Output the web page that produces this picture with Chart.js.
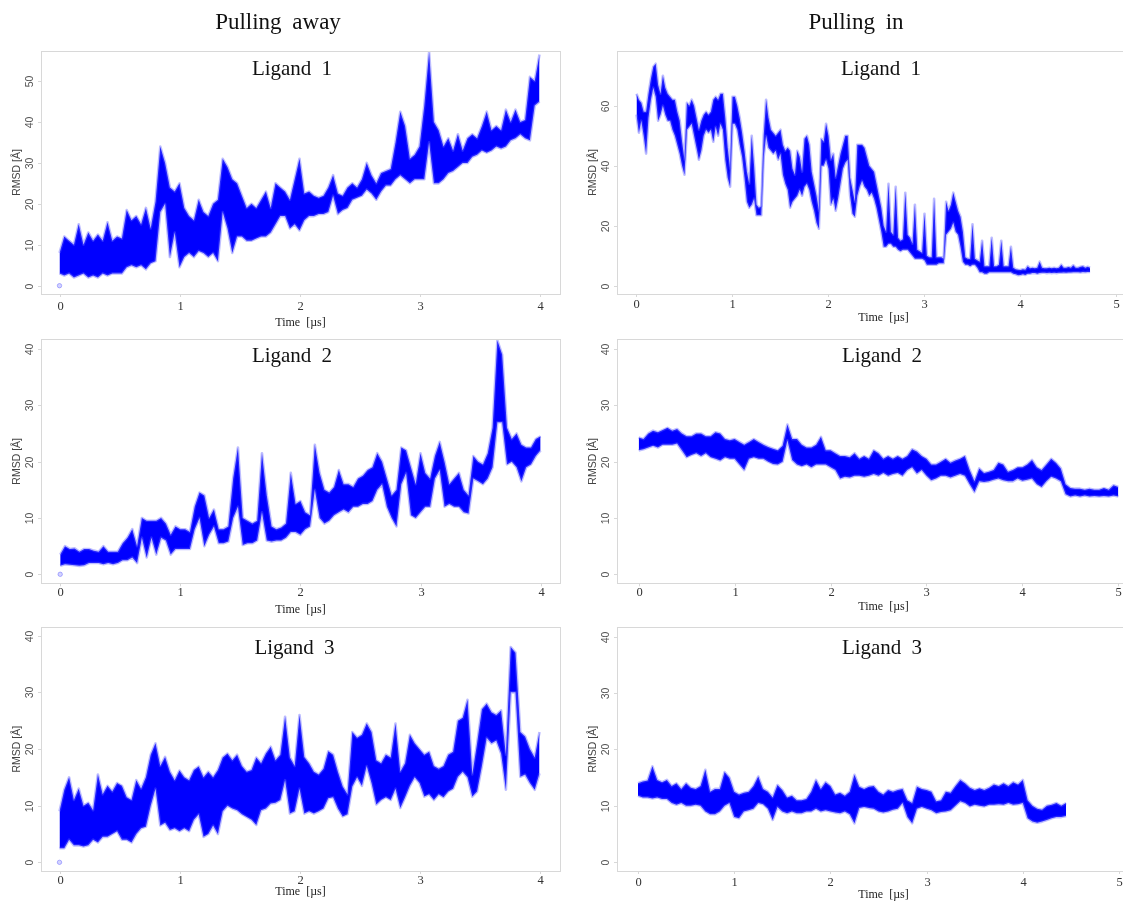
<!DOCTYPE html>
<html>
<head>
<meta charset="utf-8">
<title>RMSD pulling runs</title>
<script src="https://cdn.jsdelivr.net/npm/chart.js@4.4.1/dist/chart.umd.min.js"></script>
<style>
  html, body { margin: 0; padding: 0; background: #fff; overflow: hidden; }
  #figure { position: relative; width: 1123px; height: 901px; overflow: hidden; background: #fff; }
  #figure canvas { position: absolute; }
</style>
</head>
<body>
<div id="figure"></div>
<script>
// ---- labels and ticks ----
const columnTitles = ['Pulling away', 'Pulling in'];
const ligandNames = ['Ligand 1', 'Ligand 2', 'Ligand 3'];
const awayTimeTicks = [0, 1, 2, 3, 4];
const inTimeTicks = [0, 1, 2, 3, 4, 5];
const rmsdTicksAway1 = [0, 10, 20, 30, 40, 50];
const rmsdTicksIn1 = [0, 20, 40, 60];
const rmsdTicks40 = [0, 10, 20, 30, 40];

// first frame of the pulling-away runs sits at zero RMSD
const firstFrameT = [0];
const firstFrameRmsd = [0];

// sampling interval (µs) of each series below
const awayStep = 0.04;
const inL1Step = 0.025;
const inStep = 0.05;

// ---- pulling away, ligand 1: lower / upper edge of the RMSD band ----
const awayL1Low = [
  3, 2.5, 3, 2, 2.5, 3, 2, 2.5, 2, 3,
  2.5, 3, 3, 3, 4.5, 5, 4.5, 5, 4, 5.5,
  6, 18, 20, 7, 13, 4.5, 7, 8, 7, 8.5,
  8, 7, 8, 6, 18, 14, 8, 12, 12, 11,
  11, 11.5, 12, 12, 13, 15, 17, 17, 14, 15,
  13.5, 16, 17, 17, 17.5, 17.5, 18, 22, 17.5, 18.5,
  19, 21, 21.5, 22, 23.5, 22.5, 21, 23, 24.5, 24.5,
  26, 27, 26, 25, 26, 26, 26, 35, 25, 25,
  26, 27.5, 28, 29, 30, 30, 31.5, 32, 33, 32.5,
  33, 34, 33.5, 34, 35.5, 36, 37, 36, 35.5, 44,
  45
];
const awayL1High = [
  8, 12, 11, 10, 15, 10, 13, 11, 12.5, 11,
  15.5, 11, 12, 11.5, 18.5, 16, 17, 15, 19, 14,
  20.5, 34, 30, 24, 23, 25, 19, 17, 16, 21,
  18, 17, 20, 21, 31, 29, 26, 25, 22, 19,
  20, 19, 21, 23, 19, 25, 24, 23, 21, 26,
  31, 22.5, 23, 22, 21.5, 22, 24, 27, 22.5, 22,
  24, 25, 24, 26, 30, 27, 25, 27.5, 28, 28.5,
  35, 42.5, 39, 31, 32, 34, 44, 57, 40, 38,
  34, 36, 33, 37, 33, 36, 37, 36, 39, 42.5,
  38, 39, 38, 43, 40, 43, 40, 40.5, 51, 50,
  56.5
];

// ---- pulling in, ligand 1 ----
const inL1Low = [
  57, 51, 55, 50, 44, 56, 62, 66, 63, 55,
  57, 60, 57, 55, 55, 52, 50, 47, 44, 40,
  37, 52, 53, 54, 50, 46, 42, 45, 50, 52,
  51, 52, 48, 53, 50, 54, 52, 42, 36, 33,
  54, 54, 52, 47, 43, 36, 28, 26, 27, 29,
  23.5, 23.5, 23.5, 43, 50, 46, 45, 44, 45, 42,
  44, 37, 34, 32, 26, 28, 29, 30, 32, 30,
  33, 34, 32, 28, 25, 21, 19, 40, 40, 42,
  39, 27, 29, 25, 29, 34, 39, 41, 42, 30,
  24, 23, 30, 33, 35, 33, 32, 30, 31, 29,
  26, 22, 18, 13, 13, 14, 14, 13, 13, 12,
  11.5, 12, 12, 12, 11, 10, 9, 9, 9, 9,
  8.5, 7, 7, 7, 7, 7, 7.5, 7.5, 7.5, 17,
  18, 19, 21, 18, 17, 13, 8, 7, 7, 6.5,
  7, 7, 6, 4.5, 4.5, 4, 4, 4.5, 4.5, 4.5,
  4.5, 4.5, 4.5, 4.5, 4.5, 4.5, 4.5, 4, 3.8, 3.5,
  3.6, 3.8, 3.6, 4, 4, 4.2, 4.2, 4, 4.2, 4.3,
  4.3, 4.2, 4.3, 4.2, 4.3, 4.2, 4.3, 4.3, 4.4, 4.3,
  4.4, 4.4, 4.5, 4.5, 4.5, 4.4, 4.6, 4.5, 4.6, 4.6
];
const inL1High = [
  64, 62, 61, 58, 58, 64, 69, 73, 74, 67,
  64, 70, 66, 64, 63, 62, 62, 58, 55, 48,
  42, 61, 60, 62, 60, 56, 52, 55, 57, 58,
  57, 58, 62, 63, 62, 64, 64, 56, 46, 39,
  63, 63, 60, 56, 51, 45, 38, 34, 50, 40,
  27, 26, 26.5, 50, 62, 56, 52, 51, 50, 51,
  52, 47, 45, 46, 45, 39, 37, 45, 43, 38,
  49, 50, 47, 38, 34, 30, 25, 49, 48, 54,
  50, 42, 44, 36, 40, 44, 47, 50, 50, 36,
  32, 28, 47, 47, 47, 46, 43, 40, 39, 38,
  34, 30, 26, 20, 18, 34, 18, 17, 33, 16,
  15, 15.5, 31, 17, 16, 14, 27, 12, 11.5, 11,
  24, 10, 9.5, 9.5, 29, 9.5, 9.5, 9.5, 9, 28,
  25, 27, 31, 28, 25, 23, 18, 9.5, 9, 9,
  20.5, 9, 8.5, 8, 15, 6.5, 6.5, 6.5, 16, 6.5,
  6.5, 7, 15, 6.5, 6.5, 6.5, 13, 6, 5.5, 5.3,
  5.2, 5.5, 5.3, 6.5, 5.8, 6, 5.8, 6, 8, 6,
  5.8, 5.8, 6, 5.8, 6, 5.8, 6, 7, 6, 6,
  6.2, 6, 6.8, 6, 6, 6.3, 6.5, 6, 6.3, 6
];

// ---- pulling away, ligand 2 ----
const awayL2Low = [
  1.5, 1.8, 1.7, 1.6, 1.5, 1.6, 2, 2, 2, 1.8,
  2, 1.8, 2, 2.5, 2.5, 3, 2, 6.5, 3, 6.5,
  3.5, 6.5, 6, 3.5, 4.5, 4.5, 4.5, 4.5, 8, 10,
  5, 7, 8.5, 5.5, 5.5, 5.8, 10, 12, 5.2, 5.5,
  5.5, 6, 11, 6, 5.8, 6, 6, 6.5, 7.5, 7.5,
  7, 8, 8.5, 15, 10, 9, 9.5, 10.5, 11, 11.5,
  11, 12, 12, 12.5, 12.5, 13, 15, 16, 12, 10,
  8.5, 16, 18, 10.5, 10, 11, 12, 12, 17, 18.5,
  12, 12.5, 12, 12, 11, 10.8, 17, 16.5, 16, 17,
  19, 27, 27, 19.5, 20, 19, 16.5, 19, 19.5, 21,
  22
];
const awayL2High = [
  3.5, 5, 4.5, 4.6, 4, 4.5, 4.5, 4.2, 4, 5,
  4, 4, 4, 5.5, 6.5, 8, 5, 10, 9.5, 9.5,
  9.5, 10, 9, 7, 8.5, 8, 8, 7.5, 12, 14.5,
  14, 10, 11.5, 8, 8, 8.5, 17, 22.5, 10, 9.5,
  9, 9.5, 21.5, 14, 8.5, 8, 8.3, 9, 18, 12.5,
  13, 11, 10.5, 23, 18, 15, 14.5, 15.5, 18.5, 16,
  16, 15.5, 17, 17.5, 18.5, 19, 21.5, 20, 17, 14,
  15, 22.5, 22, 19, 16, 21.5, 18, 17, 21, 23.5,
  20, 16, 17, 18, 15, 14, 21, 20, 19.5, 21.5,
  26, 41.5, 39, 26, 24, 25, 23, 22.5, 22.5, 24,
  24.5
];

// ---- pulling in, ligand 2 ----
const inL2Low = [
  22, 22.2, 22.5, 22.8, 22.5, 23, 23, 23, 23.2, 22,
  20.8, 21.2, 21.5, 21, 21.5, 20.8, 20.5, 20.2, 20.8, 20.5,
  20.5, 19.5, 18.5, 20.5, 20.8, 20.5, 20.5, 20, 19.6, 19.5,
  20, 23.8, 20.3, 19.5, 19.2, 19.5, 19, 19.5, 19.5, 19.5,
  19, 18.5, 17, 17.3, 17.2, 17.5, 17.5, 17.3, 17.5, 17.8,
  17.5, 18, 17.5, 17.8, 18, 17.5, 18.5, 19, 17.9, 18.5,
  17.5, 16.7, 17, 17.5, 17.5, 17.2, 17.5, 17.8, 17.5, 16,
  14.6, 16.5, 16.4, 16.5, 16.8, 17, 16.7, 16.5, 16.5, 17,
  16.6, 16.8, 17, 16, 15.5, 16.5, 17.3, 17, 16.5, 14.2,
  13.8, 14, 13.8, 14, 13.8, 13.9, 13.8, 13.9, 13.8, 14,
  13.8
];
const inL2High = [
  24.3, 24, 25, 25.5, 25.2, 25.6, 26, 25.5, 25.8, 25,
  24.5, 24.5, 25, 25, 24.5, 24.5, 25.2, 25, 24, 23.8,
  24, 23.5, 23, 23.5, 24, 23.5, 23, 22.6, 22.3, 22,
  22.8, 26.6, 24, 24, 23, 22.5, 22.5, 23, 24.4, 22,
  22, 21.5, 21, 21, 20.8, 21.5, 20.5, 21, 20.5, 22,
  21.5, 20.5, 21, 20.5, 21, 20.5, 21, 22.2, 21.8, 21,
  20.5, 19.5, 19.5, 20, 20.5, 19.8, 20.2, 20.5, 21, 18.5,
  16.5, 18.8, 18, 18.2, 18.5, 19.8, 19.5, 18.2, 18.5, 19,
  19, 19.5, 20.3, 19, 18.5, 19.5, 20.5, 19.8, 18.8, 16,
  15.3, 15.2, 15.2, 15, 15.2, 15, 15, 15.3, 15, 15.8,
  15.5
];

// ---- pulling away, ligand 3 ----
const awayL3Low = [
  2.5, 2.5, 4, 3, 3, 2.8, 3, 4, 3.5, 4.5,
  4.5, 5, 5.5, 4, 4, 3.5, 5, 6, 6.3, 10,
  13, 6.5, 7, 5.7, 6, 5.5, 6, 5.5, 7.5, 8.5,
  4.5, 5, 6.5, 5, 9, 10, 9.5, 9.2, 8.5, 8,
  7.5, 6.6, 9.2, 9.5, 10.4, 10.5, 11, 14.5, 8.6, 9,
  13, 8.6, 9, 8.6, 9, 9.5, 11.3, 11.5, 9.5, 8.1,
  8.5, 13.4, 15, 13.5, 17, 14, 10.2, 11, 11.5, 11,
  13, 9.6, 11.5, 13.5, 15, 14, 11.6, 12, 11, 12,
  11.5, 12.5, 13, 15.1, 16, 15, 11.6, 12.5, 17, 22,
  21, 21.5, 19.2, 12.8, 30, 30, 15.1, 15.5, 14, 12.8,
  15.7
];
const awayL3High = [
  9, 12.8, 15, 11, 13, 10, 10.5, 9.2, 15.5, 12,
  13.5, 12.5, 14, 13.5, 11.5, 11, 14.5, 13, 15, 19,
  21, 17, 18.6, 16, 14.5, 16.2, 15, 14.5, 16.3, 16.9,
  15, 16, 15, 16.3, 18.5, 19.2, 18, 19, 17, 16,
  16.3, 18.5, 17.5, 19.2, 20.4, 18, 19, 25.7, 18.5, 17,
  26, 18.6, 17.5, 16, 15.5, 16.5, 19.6, 19, 16, 13.4,
  12, 23, 22, 22.5, 24.5, 23, 18, 17.5, 19, 18.5,
  24.5, 16, 17.5, 22.5, 21, 20, 19, 19.5, 17, 16.5,
  17, 19, 19.5, 25, 25.5, 28.7, 15.5, 21, 27, 28,
  26.5, 26, 26.8, 19, 38, 37, 23, 22.2, 20, 18.5,
  23
];

// ---- pulling in, ligand 3 ----
const inL3Low = [
  11.8, 11.5, 11.5, 11.3, 11.5, 11.2, 11.2, 10.5, 10.2, 10.5,
  10, 10, 10.2, 10, 9, 8.5, 8.5, 9, 10, 10.5,
  8, 7.8, 9, 9.2, 9.5, 10.5, 10.3, 9.5, 7.5, 9.8,
  9, 8.7, 9, 8.7, 8.7, 9, 9, 9.5, 9, 9.2,
  9, 8.8, 8.7, 9, 8.5, 6.9, 9.6, 9.8, 9.6, 9.5,
  9, 8.8, 9, 9.3, 9.5, 10.5, 8, 6.9, 9.5, 9.8,
  9.5, 9.2, 8.7, 8.9, 9, 9.2, 10, 10.8, 10.5, 9.9,
  10.2, 10, 9.9, 10.2, 10.2, 10.3, 10.2, 10.5, 10.2, 10.3,
  10.5, 7.8, 7.2, 7, 7.2, 7.5, 7.8, 8, 8, 8.2
];
const inL3High = [
  14, 14.3, 14.5, 17, 14.6, 14.2, 14.6, 13.5, 14, 13,
  14, 13.2, 13, 13.5, 16.4, 12.5, 13, 13, 16, 15,
  12.5, 12, 12.3, 12.5, 13.5, 15.2, 13, 12.5, 11.5, 13.7,
  12.8, 11.5, 11.8, 11, 11, 11.2, 12.5, 14.6, 13, 14.2,
  13.5, 12, 12.3, 11.8, 12.5, 15.5, 13.4, 13, 13.4, 13.5,
  12.5, 12, 12.8, 12.5, 12.8, 13, 11, 10.5, 13.4, 13,
  12.8, 12.5, 10.8, 11, 12.5, 12.3, 13.5, 14.6, 14, 13.2,
  12.8, 13.1, 12.8, 13.2, 13.8, 13.5, 14, 13.5, 14.2, 13.8,
  14.6, 11, 10, 9.5, 9.3, 10, 10.2, 10.5, 10, 10.5
];

// ---- panel placement (page pixels) and axis limits ----
const panels = [
  { left: 0, top: 0, w: 565, h: 330, pad: { left: 41, right: 5, top: 51, bottom: 36 },
    xr: [-0.1542, 4.1708], yr: [-2.03, 57.33], step: awayStep, low: awayL1Low, high: awayL1High, first: true,
    xTicks: awayTimeTicks, yTicks: rmsdTicksAway1, name: ligandNames[0], nameDx: 251, nameDy: 23.7,
    tickGap: 12.7, timeGap: 28.7, colTitle: columnTitles[0], colX: 278 },
  { left: 565, top: 0, w: 590, h: 330, pad: { left: 52, right: 5, top: 51, bottom: 36 },
    xr: [-0.2031, 5.349], yr: [-2.77, 78.23], step: inL1Step, low: inL1Low, high: inL1High, first: false,
    xTicks: inTimeTicks, yTicks: rmsdTicksIn1, name: ligandNames[0], nameDx: 264, nameDy: 23.7,
    tickGap: 11, timeGap: 24.3, colTitle: columnTitles[1], colX: 291 },
  { left: 0, top: 330, w: 565, h: 290, pad: { left: 41, right: 5, top: 9.3, bottom: 36.7 },
    xr: [-0.1599, 4.1615], yr: [-1.6, 41.72], step: awayStep, low: awayL2Low, high: awayL2High, first: true,
    xTicks: awayTimeTicks, yTicks: rmsdTicks40, name: ligandNames[1], nameDx: 251, nameDy: 23,
    tickGap: 9.7, timeGap: 26.7 },
  { left: 565, top: 330, w: 590, h: 290, pad: { left: 52, right: 5, top: 9.3, bottom: 36.7 },
    xr: [-0.2262, 5.33], yr: [-1.6, 41.72], step: inStep, low: inL2Low, high: inL2High, first: false,
    xTicks: inTimeTicks, yTicks: rmsdTicks40, name: ligandNames[1], nameDx: 265, nameDy: 23,
    tickGap: 9.7, timeGap: 23.4 },
  { left: 0, top: 620, w: 565, h: 281, pad: { left: 41, right: 5, top: 7.3, bottom: 30 },
    xr: [-0.1542, 4.1708], yr: [-1.53, 41.48], step: awayStep, low: awayL3Low, high: awayL3High, first: true,
    xTicks: awayTimeTicks, yTicks: rmsdTicks40, name: ligandNames[2], nameDx: 253.5, nameDy: 27,
    tickGap: 10, timeGap: 21 },
  { left: 565, top: 620, w: 590, h: 281, pad: { left: 52, right: 5, top: 7.3, bottom: 30 },
    xr: [-0.2183, 5.322], yr: [-1.56, 41.67], step: inStep, low: inL3Low, high: inL3High, first: false,
    xTicks: inTimeTicks, yTicks: rmsdTicks40, name: ligandNames[2], nameDx: 265, nameDy: 27,
    tickGap: 12, timeGap: 24 }
];

const serif = '"Liberation Serif", "DejaVu Serif", serif';
const sans = '"Liberation Sans", Arial, sans-serif';

// frame, ticks, axis labels and titles drawn around each panel
const panelDecor = {
  id: 'panelDecor',
  afterDraw(chart, args, o) {
    const ctx = chart.ctx;
    const a = chart.chartArea;
    const xs = chart.scales.x, ys = chart.scales.y;
    ctx.save();
    ctx.strokeStyle = '#d8d8d8';
    ctx.lineWidth = 1;
    ctx.strokeRect(Math.round(a.left) + 0.5, Math.round(a.top) + 0.5,
      Math.round(a.right - a.left), Math.round(a.bottom - a.top));

    // y ticks, labels rotated like the axis
    ctx.font = '10.5px ' + sans;
    ctx.fillStyle = '#555';
    o.yTicks.forEach(v => {
      const py = Math.round(ys.getPixelForValue(v)) + 0.5;
      ctx.beginPath();
      ctx.moveTo(a.left - 3, py);
      ctx.lineTo(a.left, py);
      ctx.stroke();
      ctx.save();
      ctx.translate(a.left - 10.5, py);
      ctx.rotate(-Math.PI / 2);
      ctx.textAlign = 'center';
      ctx.textBaseline = 'middle';
      ctx.fillText(String(v), 0, 0);
      ctx.restore();
    });

    // x ticks
    ctx.font = '12.5px ' + serif;
    ctx.fillStyle = '#333';
    ctx.textAlign = 'center';
    ctx.textBaseline = 'middle';
    o.xTicks.forEach(v => {
      const px = Math.round(xs.getPixelForValue(v)) + 0.5;
      ctx.beginPath();
      ctx.moveTo(px, a.bottom);
      ctx.lineTo(px, a.bottom + 3);
      ctx.stroke();
      ctx.fillText(String(v), px, a.bottom + o.tickGap);
    });

    // axis titles
    const cx = (a.left + a.right) / 2;
    ctx.font = '12px ' + serif;
    ctx.fillStyle = '#222';
    if ('wordSpacing' in ctx) ctx.wordSpacing = '3px';
    ctx.fillText('Time [µs]', cx, a.bottom + o.timeGap);
    if ('wordSpacing' in ctx) ctx.wordSpacing = '0px';

    ctx.save();
    ctx.translate(a.left - 24, (a.top + a.bottom) / 2);
    ctx.rotate(-Math.PI / 2);
    ctx.font = '10.5px ' + sans;
    ctx.fillStyle = '#444';
    ctx.fillText('RMSD [Å]', 0, 0);
    ctx.restore();

    // ligand name inside the frame
    ctx.font = '21px ' + serif;
    ctx.fillStyle = '#111';
    ctx.textBaseline = 'alphabetic';
    if ('wordSpacing' in ctx) ctx.wordSpacing = '5px';
    ctx.fillText(o.name, a.left + o.nameDx, a.top + o.nameDy);

    // column heading on the top row
    if (o.colTitle) {
      ctx.font = '23px ' + serif;
      ctx.fillText(o.colTitle, o.colX, 29);
    }
    ctx.restore();
  }
};

const figure = document.getElementById('figure');

panels.forEach(p => {
  const canvas = document.createElement('canvas');
  canvas.width = p.w;
  canvas.height = p.h;
  canvas.style.left = p.left + 'px';
  canvas.style.top = p.top + 'px';
  canvas.style.width = p.w + 'px';
  canvas.style.height = p.h + 'px';
  figure.appendChild(canvas);

  const toPoints = vals => vals.map((v, i) => ({ x: i * p.step, y: v }));
  // soft edge: the band is made of many overlapping semi-transparent markers
  const edge = 'rgba(90, 90, 255, 0.4)';
  const datasets = [
    { data: toPoints(p.low), borderColor: edge, borderWidth: 2.6, pointRadius: 0, fill: false,
      tension: 0, borderJoinStyle: 'round' },
    { data: toPoints(p.high), borderColor: edge, borderWidth: 2.6, pointRadius: 0, fill: '-1',
      backgroundColor: '#0000ff', tension: 0, borderJoinStyle: 'round' }
  ];
  if (p.first) {
    datasets.push({
      type: 'scatter',
      data: firstFrameT.map((t, i) => ({ x: t, y: firstFrameRmsd[i] })),
      pointRadius: 2.2,
      pointBackgroundColor: 'rgba(130, 130, 255, 0.35)',
      pointBorderColor: 'rgba(100, 100, 255, 0.6)',
      pointBorderWidth: 0.8
    });
  }

  new Chart(canvas, {
    type: 'line',
    data: { datasets },
    options: {
      responsive: false,
      animation: false,
      devicePixelRatio: 1,
      events: [],
      layout: { padding: p.pad },
      scales: {
        x: { type: 'linear', min: p.xr[0], max: p.xr[1], display: false },
        y: { type: 'linear', min: p.yr[0], max: p.yr[1], display: false }
      },
      plugins: {
        legend: { display: false },
        tooltip: { enabled: false },
        panelDecor: p
      }
    },
    plugins: [panelDecor]
  });
});
</script>
</body>
</html>
